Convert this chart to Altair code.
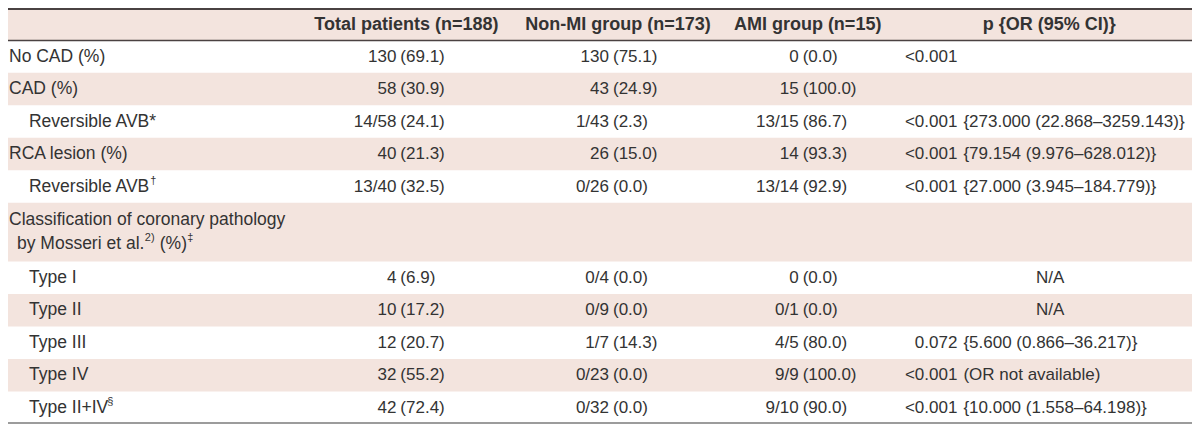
import altair as alt
import pandas as pd

# ---------------- data ----------------
labels = ["No CAD (%)", "CAD (%)", "Reversible AVB*", "RCA lesion (%)", "Reversible AVB",
          "Classification of coronary pathology", "Type I", "Type II", "Type III", "Type IV", "Type II+IV"]
indent = [0, 0, 1, 0, 1, 0, 1, 1, 1, 1, 1]
total_n = ["130", "58", "14/58", "40", "13/40", "", "4", "10", "12", "32", "42"]
total_pct = ["(69.1)", "(30.9)", "(24.1)", "(21.3)", "(32.5)", "", "(6.9)", "(17.2)", "(20.7)", "(55.2)", "(72.4)"]
nonmi_n = ["130", "43", "1/43", "26", "0/26", "", "0/4", "0/9", "1/7", "0/23", "0/32"]
nonmi_pct = ["(75.1)", "(24.9)", "(2.3)", "(15.0)", "(0.0)", "", "(0.0)", "(0.0)", "(14.3)", "(0.0)", "(0.0)"]
ami_n = ["0", "15", "13/15", "14", "13/14", "", "0", "0/1", "4/5", "9/9", "9/10"]
ami_pct = ["(0.0)", "(100.0)", "(86.7)", "(93.3)", "(92.9)", "", "(0.0)", "(0.0)", "(80.0)", "(100.0)", "(90.0)"]
p_vals = ["<0.001", "", "<0.001", "<0.001", "<0.001", "", "N/A", "N/A", "0.072", "<0.001", "<0.001"]
or_vals = ["", "", "{273.000 (22.868–3259.143)}", "{79.154 (9.976–628.012)}", "{27.000 (3.945–184.779)}",
           "", "", "", "{5.600 (0.866–36.217)}", "(OR not available)", "{10.000 (1.558–64.198)}"]
headers = ["Total patients (n=188)", "Non-MI group (n=173)", "AMI group (n=15)", "p {OR (95% CI)}"]

# ---------------- layout ----------------
W, H = 1184, 416
TOP, BOTTOM, LEFT, RIGHT = 4, 428, 4, 1190
ROW_H = 33.1
row_heights = [ROW_H] * 11
row_heights[5] = 60
HEADER_H = 33

xs = alt.Scale(domain=[LEFT, RIGHT], range=[0, W], nice=False, zero=False)
ys = alt.Scale(domain=[TOP, BOTTOM], range=[0, H], nice=False, zero=False)
FONT = "Liberation Sans"
FS = 17
LFS = 17.5
TXT = "#333333"
PINK = "#f3e4de"

y0 = TOP + HEADER_H
tops, mids = [], []
for h in row_heights:
    tops.append(y0)
    mids.append(y0 + h / 2)
    y0 += h

df = pd.DataFrame({
    "label": labels, "indent": indent,
    "tn": total_n, "tp": total_pct, "nn": nonmi_n, "np": nonmi_pct,
    "an": ami_n, "ap": ami_pct, "p": p_vals, "orv": or_vals,
    "top": tops, "bot": [t + h for t, h in zip(tops, row_heights)], "mid": mids,
})
df["row"] = range(len(df))
df["lx"] = [5 + 20 * i for i in indent]
df["ly"] = df["mid"]
df.loc[5, "ly"] = df.loc[5, "mid"] - 12

odd = df[df["row"] % 2 == 1]
bands = pd.DataFrame({"top": [TOP] + list(odd["top"]),
                      "bot": [TOP + HEADER_H] + list(odd["bot"])})
bands["x1"] = LEFT
bands["x2"] = RIGHT


def X(f):
    return alt.X(f, scale=xs, axis=None)


def Y(f):
    return alt.Y(f, scale=ys, axis=None)


band_layer = alt.Chart(bands).mark_rect(color=PINK).encode(
    x=X("x1:Q"), x2="x2:Q", y=Y("top:Q"), y2="bot:Q")

rdf = pd.DataFrame({"y": [TOP + 1, TOP + HEADER_H, BOTTOM - 1],
                    "c": ["#4a4242", "#4a4242", "#9c9c9c"],
                    "sw": [2, 1.5, 2], "x1": LEFT, "x2": RIGHT})
rule_layer = alt.Chart(rdf).mark_rule().encode(
    x=X("x1:Q"), x2="x2:Q", y=Y("y:Q"),
    color=alt.Color("c:N", scale=None, legend=None),
    strokeWidth=alt.StrokeWidth("sw:Q", scale=None, legend=None))

hdf = pd.DataFrame({"h": headers, "x": [403, 615, 805, 1047], "y": [TOP + HEADER_H / 2 + 1] * 4})
header_layer = alt.Chart(hdf).mark_text(font=FONT, fontSize=18, fontWeight="bold", color=TXT,
                                         baseline="middle", align="center").encode(
    x=X("x:Q"), y=Y("y:Q"), text="h:N")


def txt(col, xpos, align):
    d = df[(df[col] != "") & (df[col] != "N/A")].copy()
    d["xp"] = xpos
    return alt.Chart(d).mark_text(font=FONT, fontSize=FS, color=TXT, baseline="middle", align=align).encode(
        x=X("xp:Q"), y=Y("mid:Q"), text=f"{col}:N")


label_layer = alt.Chart(df).mark_text(font=FONT, fontSize=LFS, color=TXT, baseline="middle", align="left").encode(
    x=X("lx:Q"), y=Y("ly:Q"), text="label:N")

# second line of the classification row, plus superscripts
m4, m5, m10 = df.loc[4, "mid"], df.loc[5, "mid"], df.loc[10, "mid"]
line2 = pd.DataFrame({"t": ["by Mosseri et al.", "2)", "(%)", "‡", "†", "§"],
                      "x": [13, 141, 156, 183.5, 146.5, 103.5],
                      "y": [m5 + 12, m5 + 6, m5 + 12, m5 + 6, m4 - 6, m10 - 6],
                      "fs": [LFS, 11, LFS, 11, 11, 11]})
line2_layer = alt.Chart(line2).mark_text(font=FONT, color=TXT, baseline="middle", align="left").encode(
    x=X("x:Q"), y=Y("y:Q"), text="t:N", size=alt.Size("fs:Q", scale=None, legend=None))

nadf = df[df["p"] == "N/A"].copy()
nadf["xp"] = 1048
na_layer = alt.Chart(nadf).mark_text(font=FONT, fontSize=FS, color=TXT, baseline="middle", align="center").encode(
    x=X("xp:Q"), y=Y("mid:Q"), text="p:N")

layers = [band_layer, rule_layer, header_layer, label_layer, line2_layer,
          txt("tn", 393, "right"), txt("tp", 397, "left"),
          txt("nn", 606, "right"), txt("np", 610, "left"),
          txt("an", 796, "right"), txt("ap", 800, "left"),
          txt("p", 955, "right"), na_layer, txt("orv", 961, "left")]

chart = alt.layer(*layers).properties(
    width=W, height=H, padding=0, autosize=alt.AutoSizeParams(type="none")
).configure_view(stroke=None)

chart.save("out.html", embed_options={"renderer": "svg", "actions": False})
